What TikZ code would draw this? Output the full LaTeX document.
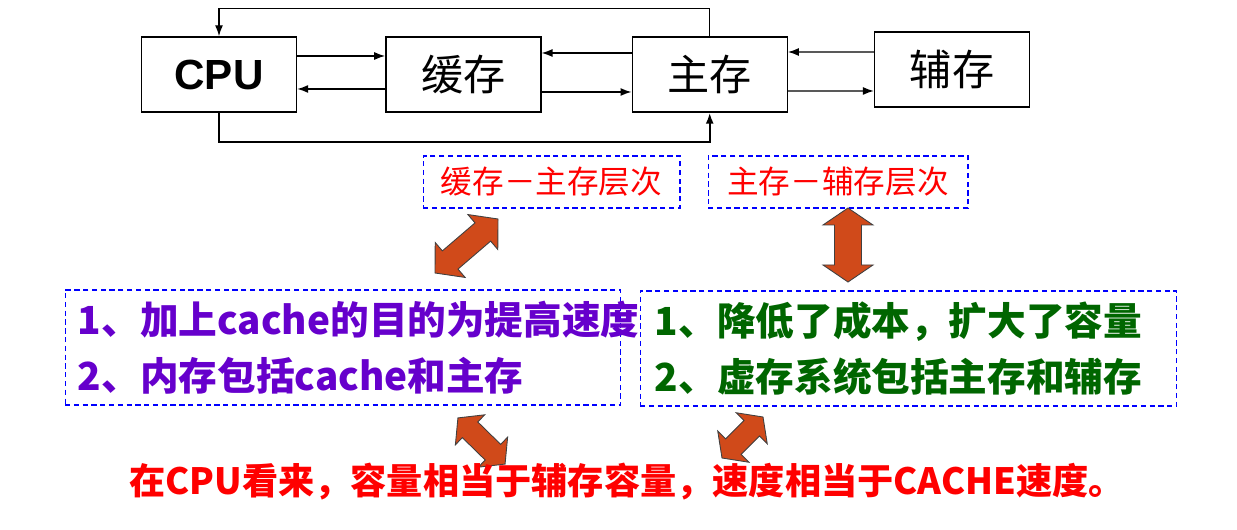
\documentclass[tikz,border=0pt]{standalone}
\usepackage{fontspec}
\setmainfont{Noto Sans CJK SC}
\newfontfamily\latinsf{Liberation Sans}
\usetikzlibrary{arrows.meta,positioning,calc}
\definecolor{RojoNivel}{RGB}{255,0,0}
\definecolor{AzulLinea}{RGB}{0,0,255}
\definecolor{MoradoTexto}{RGB}{102,0,204}
\definecolor{VerdeTexto}{RGB}{0,102,0}
\definecolor{FlechaNaranja}{RGB}{208,74,26}
\tikzset{
  membox/.style={draw, line width=0.8pt, minimum width=3.1cm, minimum height=1.5cm,
    inner sep=0pt, font=\fontsize{24}{28}\selectfont},
  conn/.style={-{Latex[length=2.2mm, width=1.6mm]}, line width=0.8pt},
  lvlbox/.style={draw=AzulLinea, dash pattern=on 3pt off 2pt, line width=0.6pt,
    minimum height=1.04cm, inner sep=0pt, text=RojoNivel, font=\fontsize{18}{22}\selectfont},
  pointtext/.style={align=left, inner sep=0pt, font=\bfseries\fontsize{22}{31.9}\selectfont},
  % ---- flechas dobles gruesas ----
  fatarrow/.style={draw=black!75, line width=0.5pt, fill=FlechaNaranja, line join=miter},
}
\begin{document}
\begin{tikzpicture}[x=0.02cm, y=0.02cm]
  \useasboundingbox (0,0) rectangle (1237,530);
  \node[membox, font=\latinsf\bfseries\fontsize{24}{28}\selectfont] (cpu) at (219,455.5) {CPU};
  \node[membox, right=1.76cm of cpu] (cache) {缓存};
  \node[membox, right=1.8cm of cache] (mainm) {主存};
  \node[membox, right=1.72cm of mainm, yshift=0.1cm] (aux) {辅存};

  \draw[conn] ([yshift=0.37cm]cpu.east) -- ([yshift=0.37cm]cache.west);
  \draw[conn] ([yshift=-0.29cm]cache.west) -- ([yshift=-0.29cm]cpu.east);
  \draw[conn] ([yshift=0.43cm]mainm.west) -- ([yshift=0.43cm]cache.east);
  \draw[conn] ([yshift=-0.35cm]cache.east) -- ([yshift=-0.35cm]mainm.west);
  \draw[conn] ([yshift=0.35cm]aux.west) -- ([yshift=0.45cm]mainm.east);
  \draw[conn] ([yshift=-0.33cm]mainm.east) -- ([yshift=-0.43cm]aux.west);
  \draw[conn] (mainm.north) -- ++(0,0.56cm) -| (cpu.north);
  \draw[conn, line width=1.1pt] (cpu.south) -- ++(0,-0.58cm) -| (mainm.south);

  \node[lvlbox, minimum width=5.14cm] (lv1) at (551.5,348) {缓存－主存层次};
  \node[lvlbox, minimum width=5.2cm] (lv2) at (838,348) {主存－辅存层次};

  \node[lvlbox, minimum width=11.12cm, minimum height=2.3cm] (cachebox) at (343,182.5) {};
  \node[pointtext, text=MoradoTexto, anchor=west] (cachetxt) at ([xshift=0.26cm]cachebox.west)
    {1、加上cache的目的为提高速度\\2、内存包括cache和主存};
  \node[lvlbox, minimum width=10.74cm, minimum height=2.3cm] (auxbox) at (908.5,181.5) {};
  \node[pointtext, text=VerdeTexto, anchor=west] (auxtxt) at ([xshift=0.3cm]auxbox.west)
    {1、降低了成本，扩大了容量\\2、虚存系统包括主存和辅存};

  % centro x/y, angulo, semilargo, media cabeza, medio cuerpo, largo cabeza
  \foreach \cx/\cy/\ang/\L/\W/\S/\H in {466.5/284/40.6/41.5/23/12/20, 848/285/90/37/25/13.5/17,
      481.5/89/-44.4/33/21/11/17, 742.5/92.5/45/29/22/11/16}
    \draw[fatarrow, shift={(\cx,\cy)}, rotate=\ang]
      (-\L,0) -- (-\L+\H,\W) -- (-\L+\H,\S) -- (\L-\H,\S) -- (\L-\H,\W) -- (\L,0)
      -- (\L-\H,-\W) -- (\L-\H,-\S) -- (-\L+\H,-\S) -- (-\L+\H,-\W) -- cycle;

  \node[font=\bfseries\fontsize{20.6}{25}\selectfont, text=RojoNivel] (concl) at (627,48)
    {在CPU看来，容量相当于辅存容量，速度相当于CACHE速度。};
\end{tikzpicture}
\end{document}
